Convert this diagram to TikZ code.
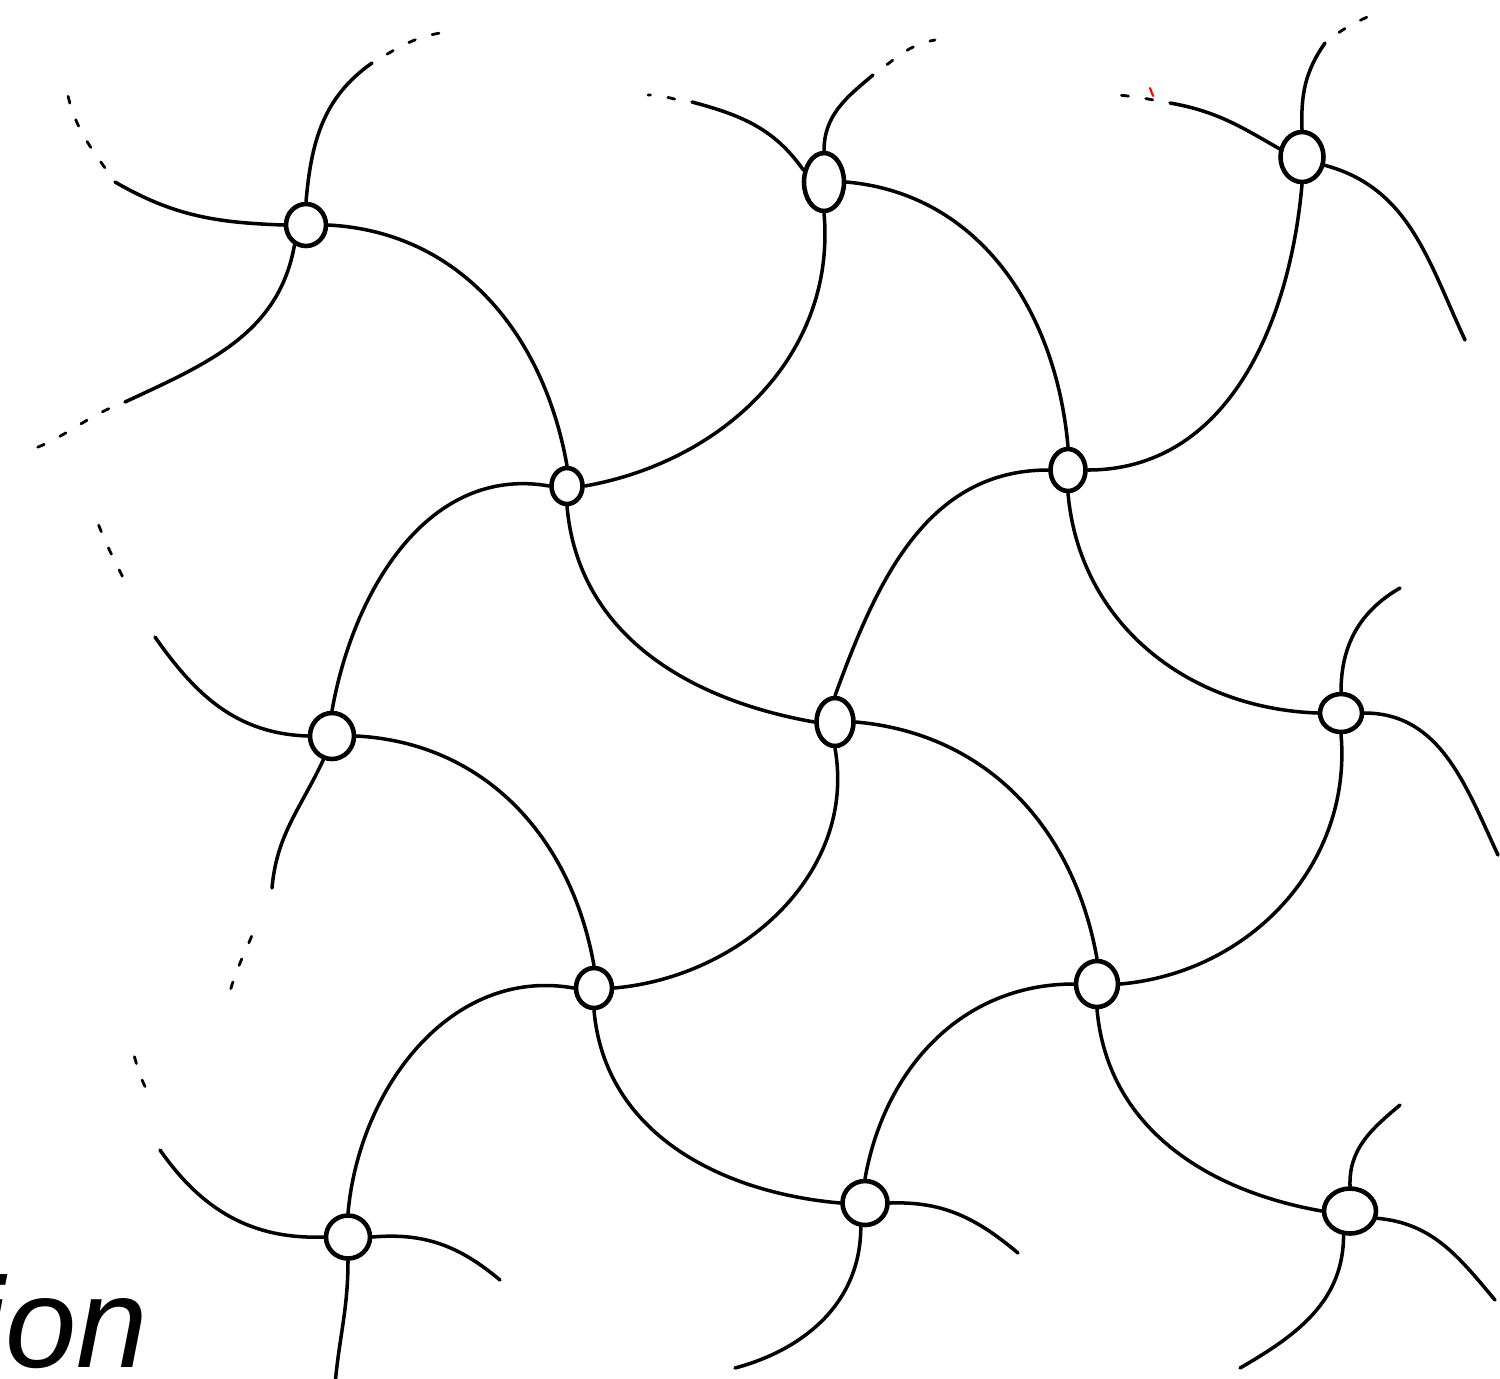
\documentclass[tikz,border=0pt]{standalone}
\usepackage{fontspec}
\newfontfamily\captionfont{Liberation Sans}
\usetikzlibrary{shapes.geometric}

\begin{document}
\begin{tikzpicture}[x=0.1mm, y=0.1mm,
      knot/.style={ellipse, draw, line width=1.3pt, inner sep=0pt},
      arm/.style={line width=1pt, line cap=round},
      trail/.style={line width=0.8pt, line cap=round, dash pattern=on 2pt off 5pt, dash phase=2pt}
    ]
      \useasboundingbox (0,0) rectangle (1500,-1378);

      % knots
      \node[knot, minimum width=0.40cm, minimum height=0.42cm] (n1)  at (306,-225)  {};
      \node[knot, minimum width=0.40cm, minimum height=0.58cm] (n2)  at (824,-182)  {};
      \node[knot, minimum width=0.43cm, minimum height=0.50cm] (n3)  at (1302,-157) {};
      \node[knot, minimum width=0.31cm, minimum height=0.36cm] (n4)  at (567,-486)  {};
      \node[knot, minimum width=0.35cm, minimum height=0.42cm] (n5)  at (1068,-470) {};
      \node[knot, minimum width=0.44cm, minimum height=0.46cm] (n6)  at (332,-736)  {};
      \node[knot, minimum width=0.37cm, minimum height=0.48cm] (n7)  at (835,-722)  {};
      \node[knot, minimum width=0.42cm, minimum height=0.38cm] (n8)  at (1341,-713) {};
      \node[knot, minimum width=0.36cm, minimum height=0.40cm] (n9)  at (594,-988)  {};
      \node[knot, minimum width=0.42cm, minimum height=0.46cm] (n10) at (1097,-984) {};
      \node[knot, minimum width=0.44cm, minimum height=0.43cm] (n11) at (348,-1237) {};
      \node[knot, minimum width=0.45cm, minimum height=0.44cm] (n12) at (865,-1203) {};
      \node[knot, minimum width=0.52cm, minimum height=0.45cm] (n13) at (1350,-1211) {};

      % links between knots
      \draw[arm] (n1.east)   to[out=-3,in=100]  (n4.north);
      \draw[arm] (n4.east)   to[out=10,in=-85]  (n2.south);
      \draw[arm] (n2.east)   to[out=-5,in=95]   (n5.north);
      \draw[arm] (n5.east)   to[out=0,in=-95]   (n3.south);
      \draw[arm] (n4.west)   to[out=170,in=80]  (n6.north);
      \draw[arm] (n4.south)  to[out=-85,in=170] (n7.west);
      \draw[arm] (n7.north)  to[out=70,in=180]  (n5.west);
      \draw[arm] (n5.south)  to[out=-85,in=178] (n8.west);
      \draw[arm] (n6.east)   to[out=-3,in=100]  (n9.north);
      \draw[arm] (n9.east)   to[out=5,in=-80]   (n7.south);
      \draw[arm] (n7.east)   to[out=-5,in=100]  (n10.north);
      \draw[arm] (n10.east)  to[out=5,in=-85]   (n8.south);
      \draw[arm] (n9.west)   to[out=170,in=85]  (n11.north);
      \draw[arm] (n9.south)  to[out=-85,in=175] (n12.west);
      \draw[arm] (n12.north) to[out=80,in=180]  (n10.west);
      \draw[arm] (n10.south) to[out=-85,in=170] (n13.west);

      % loose ends
      \coordinate (e1u) at (372,-63);   \coordinate (t1u) at (440,-33);
      \coordinate (e1l) at (115,-182);  \coordinate (t1l) at (66,-86);
      \coordinate (e1d) at (125,-402);  \coordinate (t1d) at (28,-451);
      \coordinate (e2l) at (692,-102);  \coordinate (t2l) at (648,-95);
      \coordinate (e2u) at (873,-75);   \coordinate (t2u) at (935,-40);
      \coordinate (e3l) at (1170,-103); \coordinate (t3l) at (1118,-95);
      \coordinate (e3u) at (1325,-43);  \coordinate (t3u) at (1378,-12);
      \coordinate (e3r) at (1465,-340);
      \coordinate (e6l) at (155,-637);
      \coordinate (e6d) at (272,-888);
      \coordinate (e8u) at (1400,-588);
      \coordinate (e8r) at (1498,-855);
      \coordinate (e11l) at (160,-1150);
      \coordinate (e11r) at (500,-1280);
      \coordinate (e11d) at (335,-1385);
      \coordinate (e12r) at (1018,-1253);
      \coordinate (e12d) at (735,-1368);
      \coordinate (e13u) at (1400,-1105);
      \coordinate (e13r) at (1495,-1300);
      \coordinate (e13d) at (1240,-1368);

      \draw[arm] (n1.north)  to[out=85,in=-145]  (e1u);
      \draw[arm] (n1.west)   to[out=178,in=-30]  (e1l);
      \draw[arm] (n1.-120)   to[out=-100,in=25]  (e1d);
      \draw[arm] (n2.150)    to[out=125,in=-15]  (e2l);
      \draw[arm] (n2.north)  to[out=90,in=-140]  (e2u);
      \draw[arm] (n3.160)    to[out=150,in=-10]  (e3l);
      \draw[arm] (n3.north)  to[out=92,in=-125]  (e3u);
      \draw[arm] (n3.-20)    to[out=-15,in=115]  (e3r);
      \draw[arm] (n6.west)   to[out=178,in=-55]  (e6l);
      \draw[arm] (n6.-110)   to[out=-115,in=85]  (e6d);
      \draw[arm] (n8.north)  to[out=90,in=-150]  (e8u);
      \draw[arm] (n8.east)   to[out=0,in=115]    (e8r);
      \draw[arm] (n11.west)  to[out=182,in=-55]  (e11l);
      \draw[arm] (n11.east)  to[out=5,in=140]    (e11r);
      \draw[arm] (n11.south) to[out=-90,in=85]   (e11d);
      \draw[arm] (n12.east)  to[out=2,in=140]    (e12r);
      \draw[arm] (n12.-100)  to[out=-90,in=15]   (e12d);
      \draw[arm] (n13.north) to[out=92,in=-140]  (e13u);
      \draw[arm] (n13.-15)   to[out=-5,in=130]   (e13r);
      \draw[arm] (n13.-105)  to[out=-90,in=30]   (e13d);

      % faint trails
      \draw[trail] (e1u) to[out=30,in=190]   (t1u);
      \draw[trail] (e1l) to[out=125,in=-80]  (t1l);
      \draw[trail] (e1d) to[out=200,in=20]   (t1d);
      \draw[trail] (e2l) to[out=175,in=0]    (t2l);
      \draw[trail] (e2u) to[out=35,in=190]   (t2u);
      \draw[trail] (e3l) to[out=170,in=-5]   (t3l);
      \draw[trail] (e3u) to[out=40,in=205]   (t3u);
      \draw[trail] (130,-592) to[out=115,in=-70] (96,-518);
      \draw[trail] (258,-920) to[out=-110,in=75] (229,-995);
      \draw[trail] (129,-1040) to[out=-70,in=120] (149,-1094);
      \draw[red, line width=0.6pt, line cap=round] (1150,-88) -- (1153,-96);

      \node[anchor=base west, inner sep=0pt,
            font=\captionfont\itshape\fontsize{36.5pt}{40pt}\selectfont] (caption) at (-24,-1367) {ion};
    \end{tikzpicture}
\end{document}
